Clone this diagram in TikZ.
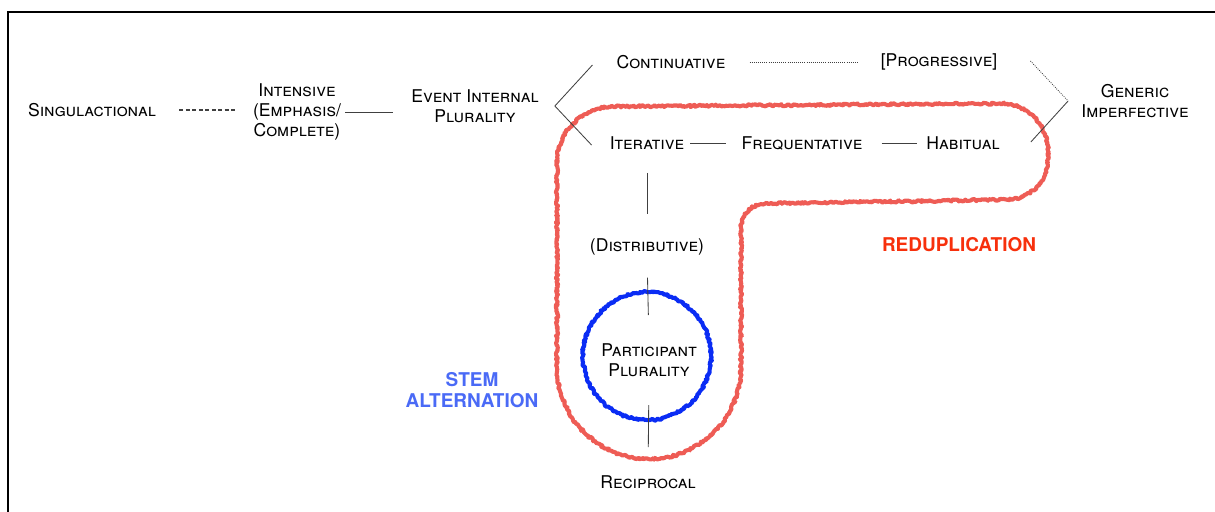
\documentclass[tikz,border=0pt]{standalone}
\usepackage{fontspec}
\setmainfont{TeX Gyre Heros}
\usetikzlibrary{decorations.pathmorphing}
\definecolor{redline}{HTML}{EE5C55}
\definecolor{ringblue}{HTML}{0A2CF4}
\definecolor{redlabel}{HTML}{F7300C}
\definecolor{bluelabel}{HTML}{4A6AF6}
\newcommand{\catfont}{\fontsize{12.5}{14.5}\selectfont\scshape}
\newcommand{\tagfont}{\fontsize{13.5}{15.5}\selectfont\bfseries}

\begin{document}
\begin{tikzpicture}[x=0.025cm,y=-0.025cm,
  cat/.style={font=\catfont,align=center,inner sep=0pt},
  tag/.style={font=\tagfont,align=center,inner sep=0pt},
  link/.style={draw=black!75,line width=0.6pt},
  chalk/.style={line width=2.9pt,line join=round,decorate,
    decoration={random steps,segment length=1pt,amplitude=0.8pt}}]
  \useasboundingbox (0,0) rectangle (1215,512);
  \draw[line width=1.4pt] (8,512) -- (8,12) -- (1215,12);
  % categories
  \foreach \nm/\x/\y/\txt in {%
    sing/92/110/Singulactional,
    inten/297/112/{Intensive\\(Emphasis/\\Complete)},
    eip/475/106/{Event Internal\\Plurality},
    cont/671/62/Continuative,
    prog/939/62/{[Progressive]},
    gimp/1135/101/{Generic\\Imperfective},
    iter/647/143/Iterative,
    freq/802/143/Frequentative,
    habit/963/143/Habitual,
    distr/647/247/{(Distributive)},
    part/649/360/{Participant\\Plurality},
    recip/648/482/Reciprocal}{
      \node[cat] (\nm) at (\x,\y) {\txt};
  }
  % outlines
  \draw[chalk,redline] (557,300) -- (557,367) arc[start angle=180,end angle=0,radius=92]
    [rounded corners=0.6cm] -- (741,204) [rounded corners=1cm] -- (1048,199)
    [rounded corners=1.2cm] -- (1048,103) [rounded corners=1.4cm] -- (557,107)
    [sharp corners] -- (557,300);
  \draw[chalk,ringblue] (647,356) circle[radius=64];
  \node[tag,text=bluelabel] (stemalt) at (472,390) {STEM\\ALTERNATION};
  \node[tag,text=redlabel] (redup) at (959,245) {REDUPLICATION};
  % links
  \draw[link,line width=0.85pt,dash pattern=on 2.8pt off 1.8pt,shorten <=0.58cm,shorten >=0.38cm]
    (sing.east) -- (sing.east -| inten.west);
  \draw[link,shorten <=0.1cm,shorten >=0.45cm] (inten.east) -- (inten.east -| eip.west);
  \coordinate (fork) at ([shift={(16,0)}]eip.east);
  \coordinate (forkup) at ([shift={(-24,3)}]cont.west);
  \coordinate (forkdn) at ([shift={(-18,2)}]iter.west);
  \draw[link] (forkup) -- (fork) -- (forkdn);
  \draw[link,dash pattern=on 0.6pt off 0.9pt,shorten <=0.6cm,shorten >=0.58cm]
    (cont.east) -- (cont.east -| prog.west);
  \coordinate (gjoin) at ([shift={(-13,0)}]gimp.west);
  \draw[link,dash pattern=on 0.6pt off 0.9pt] ([shift={(33,-1)}]prog.east) -- (gjoin);
  \draw[link] (gjoin) -- ([shift={(31,-1)}]habit.east);
  \draw[link,shorten <=0.15cm,shorten >=0.375cm] (iter.east) -- (iter.east -| freq.west);
  \draw[link,shorten <=0.475cm,shorten >=0.225cm] (freq.east) -- (freq.east -| habit.west);
  \draw[link,shorten <=0.58cm,shorten >=0.6cm] (iter.south) -- (distr.north);
  \draw[link,shorten <=0.55cm,shorten >=0.7cm] (distr.south) -- (part.north);
  \draw[link,shorten <=0.7cm,shorten >=0.7cm] (part.south) -- (recip.north);
\end{tikzpicture}
\end{document}
